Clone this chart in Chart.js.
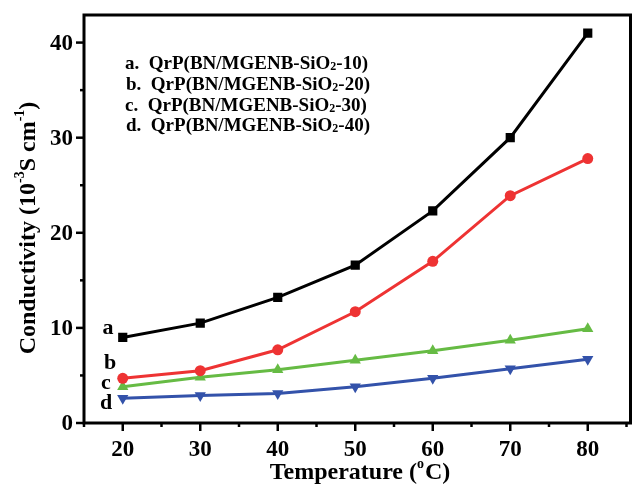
<!DOCTYPE html>
<html>
<head>
<meta charset="utf-8">
<script src="https://cdn.jsdelivr.net/npm/chart.js@4/dist/chart.umd.min.js"></script>
<style>
  html, body { margin: 0; padding: 0; background: #fff; }
  #wrap { width: 633px; height: 484px; position: relative; }
</style>
</head>
<body>
<div id="wrap"><canvas id="myChart" width="633" height="484"></canvas></div>
<script>
// data
var temperatures = [20, 30, 40, 50, 60, 70, 80];
var seriesA = [9.0, 10.5, 13.2, 16.6, 22.3, 30.0, 41.0];
var seriesB = [4.7, 5.5, 7.7, 11.7, 17.0, 23.9, 27.8];
var seriesC = [3.8, 4.8, 5.6, 6.6, 7.6, 8.7, 9.9];
var seriesD = [2.6, 2.9, 3.1, 3.8, 4.7, 5.7, 6.7];
var seriesNames = ['a.  QrP(BN/MGENB-SiO2-10)', 'b.  QrP(BN/MGENB-SiO2-20)',
                   'c.  QrP(BN/MGENB-SiO2-30)', 'd.  QrP(BN/MGENB-SiO2-40)'];
var xTicks = [20, 30, 40, 50, 60, 70, 80];
var yTicks = [0, 10, 20, 30, 40];

var SERIF = '"Liberation Serif", "DejaVu Serif", serif';

function pts(vals) {
  return temperatures.map(function (t, i) { return { x: t, y: vals[i] }; });
}

function ds(label, vals, color, style, radius, rot) {
  return {
    label: label,
    data: pts(vals),
    borderColor: color,
    backgroundColor: color,
    borderWidth: 3,
    pointStyle: style,
    pointRadius: radius,
    pointHoverRadius: radius,
    pointRotation: rot || 0,
    pointBorderWidth: 0,
    tension: 0
  };
}

// draws the frame, ticks, titles and text labels
var decor = {
  id: 'decor',
  afterDraw: function (chart) {
    var c = chart.ctx, a = chart.chartArea;
    var xs = chart.scales.x, ys = chart.scales.y;
    c.save();
    c.strokeStyle = '#000';
    c.fillStyle = '#000';
    c.lineWidth = 3;
    c.strokeRect(a.left, a.top, a.right - a.left + 4, a.bottom - a.top);

    // y ticks
    c.lineWidth = 2.5;
    for (var v = 0; v <= 40; v += 5) {
      var py = ys.getPixelForValue(v);
      var len = (v % 10 === 0) ? 8 : 4;
      c.beginPath(); c.moveTo(a.left - len, py); c.lineTo(a.left, py); c.stroke();
    }
    // x ticks
    for (var t = 15; t <= 85; t += 5) {
      var px = xs.getPixelForValue(t);
      var l2 = (t % 10 === 0) ? 8 : 4;
      c.beginPath(); c.moveTo(px, a.bottom); c.lineTo(px, a.bottom + l2); c.stroke();
    }

    c.font = 'bold 23px ' + SERIF;
    c.textAlign = 'right'; c.textBaseline = 'middle';
    yTicks.forEach(function (v) {
      c.fillText(String(v), a.left - 11, ys.getPixelForValue(v) + 1);
    });
    c.textAlign = 'center'; c.textBaseline = 'middle';
    xTicks.forEach(function (v) {
      c.fillText(String(v), xs.getPixelForValue(v), a.bottom + 27);
    });

    // x title
    var big = 'bold 24px ' + SERIF, small = 'bold 14px ' + SERIF;
    c.font = big;
    c.textAlign = 'left'; c.textBaseline = 'alphabetic';
    var xt1 = 'Temperature (', xt2 = 'C)';
    var w1 = c.measureText(xt1).width;
    var w2 = c.measureText(xt2).width;
    c.font = small;
    var wo = c.measureText('o').width + 1;
    var x0 = 360 - (w1 + wo + w2) / 2, yb = 479;
    c.font = big;
    c.fillText(xt1, x0, yb);
    c.font = small;
    c.fillText('o', x0 + w1, yb - 11);
    c.font = big;
    c.fillText(xt2, x0 + w1 + wo, yb);

    // y title, rotated
    c.save();
    c.translate(35, 228);
    c.rotate(-Math.PI / 2);
    var parts = [['Conductivity (10', 24, 0], ['-3', 14, -11], ['S cm', 24, 0], ['-1', 14, -11], [')', 24, 0]];
    var total = 0;
    parts.forEach(function (p) { c.font = 'bold ' + p[1] + 'px ' + SERIF; total += c.measureText(p[0]).width; });
    var cx = -total / 2;
    parts.forEach(function (p) {
      c.font = 'bold ' + p[1] + 'px ' + SERIF;
      c.fillText(p[0], cx, p[2]);
      cx += c.measureText(p[0]).width;
    });
    c.restore();

    // legend text with subscript 2
    c.textBaseline = 'alphabetic';
    seriesNames.forEach(function (name, i) {
      var yy = 69 + i * 20.8;
      var idx = name.indexOf('SiO2');
      var pre = name.slice(0, idx + 3), post = name.slice(idx + 4);
      c.font = 'bold 19px ' + SERIF;
      var xx = 125 + (i === 1 || i === 3 ? 1 : 0);
      c.fillText(pre, xx, yy);
      xx += c.measureText(pre).width;
      c.font = 'bold 12px ' + SERIF;
      c.fillText('2', xx, yy + 1);
      xx += c.measureText('2').width;
      c.font = 'bold 19px ' + SERIF;
      c.fillText(post, xx, yy);
    });

    // series letters next to the first points
    c.font = 'bold 22px ' + SERIF;
    c.textAlign = 'center'; c.textBaseline = 'middle';
    c.fillText('a', 108, 328);
    c.fillText('b', 110, 363);
    c.fillText('c', 106, 383);
    c.fillText('d', 106, 403);
    c.restore();
  }
};

var ctx = document.getElementById('myChart');
var myChart = new Chart(ctx, {
  type: 'line',
  data: {
    datasets: [
      ds(seriesNames[0], seriesA, '#000000', 'rect', 6.5),
      ds(seriesNames[1], seriesB, '#ee3333', 'circle', 5.5),
      ds(seriesNames[2], seriesC, '#66bb44', 'triangle', 6.5),
      ds(seriesNames[3], seriesD, '#3352aa', 'triangle', 6.5, 180)
    ]
  },
  options: {
    responsive: false,
    animation: false,
    layout: { padding: { left: 0, right: 0, top: 15, bottom: 0 } },
    plugins: { legend: { display: false }, tooltip: { enabled: false } },
    scales: {
      x: {
        type: 'linear', min: 15, max: 85,
        grid: { display: false }, border: { display: false },
        ticks: { display: false },
        afterFit: function (s) { s.height = 61; }
      },
      y: {
        min: 0, max: 42.9,
        grid: { display: false }, border: { display: false },
        ticks: { display: false },
        afterFit: function (s) { s.width = 84; }
      }
    }
  },
  plugins: [decor]
});
</script>
</body>
</html>
